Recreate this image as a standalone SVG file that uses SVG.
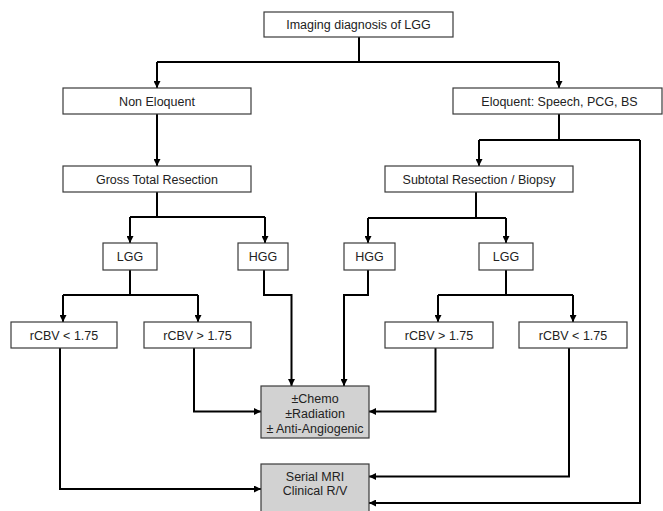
<svg xmlns="http://www.w3.org/2000/svg" width="663" height="511" viewBox="0 0 663 511">
<style>
.box{fill:#fff;stroke:#3a3a3a;stroke-width:1.2}
.grey{fill:#d2d2d2;stroke:#3a3a3a;stroke-width:1.2}
.t{font-family:"Liberation Sans",Arial,sans-serif;font-size:12.5px;fill:#222;text-anchor:middle}
.c{fill:none;stroke:#000;stroke-width:2}
</style>
<defs>
<marker id="ah" viewBox="0 0 10 10" refX="10" refY="5" markerWidth="7" markerHeight="7" markerUnits="userSpaceOnUse" orient="auto">
<path d="M0,0 L10,5 L0,10 z" fill="#000"/>
</marker>
</defs>
<rect width="663" height="511" fill="#fff"/>
<g id="connectors">
<path class="c" d="M359,37 V62 M157,62 H559"/>
<path class="c" d="M157,62 V88" marker-end="url(#ah)"/>
<path class="c" d="M559,62 V88" marker-end="url(#ah)"/>
<path class="c" d="M157,114 V166" marker-end="url(#ah)"/>
<path class="c" d="M559,114 V140 M479,140 H640"/>
<path class="c" d="M479,140 V166" marker-end="url(#ah)"/>
<path class="c" d="M157,192 V217 M130,217 H265"/>
<path class="c" d="M130,217 V243" marker-end="url(#ah)"/>
<path class="c" d="M265,217 V243" marker-end="url(#ah)"/>
<path class="c" d="M476,192 V218 M368,218 H506"/>
<path class="c" d="M368,218 V243" marker-end="url(#ah)"/>
<path class="c" d="M506,218 V243" marker-end="url(#ah)"/>
<path class="c" d="M130,270 V295 M63,295 H198"/>
<path class="c" d="M63,295 V322" marker-end="url(#ah)"/>
<path class="c" d="M198,295 V322" marker-end="url(#ah)"/>
<path class="c" d="M264,270 V295 H291.5 V386" marker-end="url(#ah)"/>
<path class="c" d="M368,270 V295 H344 V386" marker-end="url(#ah)"/>
<path class="c" d="M506,270 V295 M438,295 H573"/>
<path class="c" d="M438,295 V322" marker-end="url(#ah)"/>
<path class="c" d="M573,295 V322" marker-end="url(#ah)"/>
<path class="c" d="M194,348 V411.5 H261" marker-end="url(#ah)"/>
<path class="c" d="M435.5,348 V411.5 H369" marker-end="url(#ah)"/>
<path class="c" d="M60,348 V489 H261" marker-end="url(#ah)"/>
<path class="c" d="M569,348 V476.5 H369" marker-end="url(#ah)"/>
<path class="c" d="M640,140 V503 H369" marker-end="url(#ah)"/>
</g>
<g id="imaging"><rect class="box" x="264" y="12" width="189" height="25"/><text class="t" x="358.5" y="29">Imaging diagnosis of LGG</text></g>
<g id="non-eloquent"><rect class="box" x="63" y="88" width="188" height="26"/><text class="t" x="157" y="105.5">Non Eloquent</text></g>
<g id="eloquent"><rect class="box" x="453" y="88" width="209" height="26"/><text class="t" x="559.5" y="105.5">Eloquent: Speech, PCG, BS</text></g>
<g id="gross"><rect class="box" x="63" y="166" width="188" height="26"/><text class="t" x="157" y="183.5">Gross Total Resection</text></g>
<g id="subtotal"><rect class="box" x="385" y="166" width="188" height="26"/><text class="t" x="479" y="183.5">Subtotal Resection / Biopsy</text></g>
<g id="lgg-left"><rect class="box" x="103" y="243" width="54" height="27"/><text class="t" x="130" y="261">LGG</text></g>
<g id="hgg-left"><rect class="box" x="238" y="243" width="50" height="27"/><text class="t" x="263" y="261">HGG</text></g>
<g id="hgg-right"><rect class="box" x="344" y="243" width="51" height="27"/><text class="t" x="369.5" y="261">HGG</text></g>
<g id="lgg-right"><rect class="box" x="479" y="243" width="54" height="27"/><text class="t" x="506" y="261">LGG</text></g>
<g id="rcbv-lt-left"><rect class="box" x="11" y="322" width="106" height="26"/><text class="t" x="64" y="339.5">rCBV &lt; 1.75</text></g>
<g id="rcbv-gt-left"><rect class="box" x="144" y="322" width="107" height="26"/><text class="t" x="197.5" y="339.5">rCBV &gt; 1.75</text></g>
<g id="rcbv-gt-right"><rect class="box" x="385" y="322" width="108" height="26"/><text class="t" x="439" y="339.5">rCBV &gt; 1.75</text></g>
<g id="rcbv-lt-right"><rect class="box" x="519" y="322" width="108" height="26"/><text class="t" x="573" y="339.5">rCBV &lt; 1.75</text></g>
<g id="therapy"><rect class="grey" x="261" y="386" width="108" height="52"/>
<text class="t" x="315" y="402.5">±Chemo</text>
<text class="t" x="315" y="417.5">±Radiation</text>
<text class="t" x="315" y="432.5">± Anti-Angiogenic</text></g>
<g id="serial"><rect class="grey" x="261" y="464" width="108" height="60"/>
<text class="t" x="315" y="480.5">Serial MRI</text>
<text class="t" x="315" y="495">Clinical R/V</text></g>
</svg>
